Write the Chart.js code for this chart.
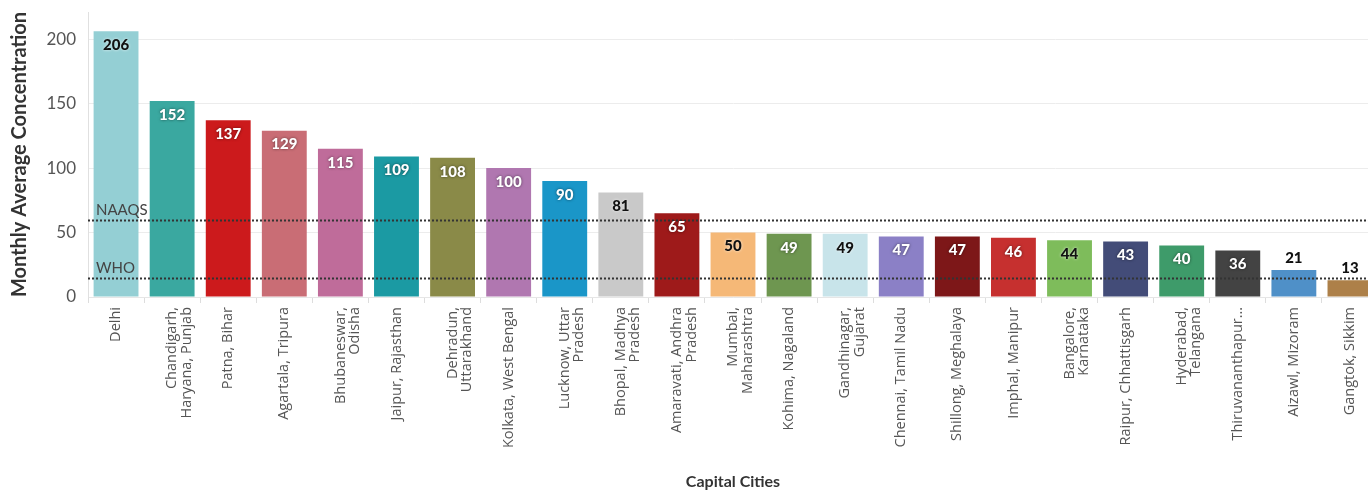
<!DOCTYPE html>
<html>
<head>
<meta charset="utf-8">
<script src="https://cdn.jsdelivr.net/npm/chart.js@4.4.0/dist/chart.umd.js"></script>
<style>
  html, body { margin: 0; padding: 0; background: #fff; overflow: hidden; }
  #wrap { position: relative; width: 1378px; height: 493px; }
</style>
</head>
<body>
<div id="wrap"><canvas id="c"></canvas></div>
<script>
// capital cities, sorted by monthly average concentration
const cities = [
    ['Delhi'], ['Chandigarh,', 'Haryana, Punjab'], ['Patna, Bihar'], ['Agartala, Tripura'],
    ['Bhubaneswar,', 'Odisha'], ['Jaipur, Rajasthan'], ['Dehradun,', 'Uttarakhand'],
    ['Kolkata, West Bengal'], ['Lucknow, Uttar', 'Pradesh'], ['Bhopal, Madhya', 'Pradesh'],
    ['Amaravati, Andhra', 'Pradesh'], ['Mumbai,', 'Maharashtra'], ['Kohima, Nagaland'],
    ['Gandhinagar,', 'Gujarat'], ['Chennai, Tamil Nadu'], ['Shillong, Meghalaya'],
    ['Imphal, Manipur'], ['Bangalore,', 'Karnataka'], ['Raipur, Chhattisgarh'],
    ['Hyderabad,', 'Telangana'], ['Thiruvananthapur…'], ['Aizawl, Mizoram'], ['Gangtok, Sikkim'],
];
const values = [206, 152, 137, 129, 115, 109, 108, 100, 90, 81, 65, 50, 49, 49, 47, 47, 46, 44, 43, 40, 36, 21, 13];
const barColors = ['#94cfd4', '#3aa8a0', '#cc1a1c', '#c96d75', '#bf6c9a', '#1b9aa3', '#8a8a48',
    '#b077b0', '#1a96c8', '#c9c9c9', '#9e1a1a', '#f5b877', '#6e9650', '#c8e4ea', '#8b80c6',
    '#7d1718', '#c6302f', '#7ebc5b', '#434c78', '#3e9b6a', '#434343', '#4f90c8', '#ad8049'];
// label colour: 'w' white inside, 'b' black inside
const labelInk = ['b', 'w', 'w', 'w', 'w', 'w', 'w', 'w', 'w', 'b', 'w', 'b', 'w', 'b', 'w', 'w', 'w', 'b', 'w', 'w', 'w', 'b', 'b'];
const refValues = [60, 15];
const refNames = ['NAAQS', 'WHO'];
const yTicks = [0, 50, 100, 150, 200];

const refLines = {
    id: 'refLines',
    afterDatasetsDraw(chart) {
        const { ctx, chartArea: a, scales: { y } } = chart;
        ctx.save();
        refValues.forEach((v, i) => {
            const py = Math.round(y.getPixelForValue(v)) + 0.5;
            ctx.strokeStyle = '#333';
            ctx.lineWidth = 2;
            ctx.setLineDash([2, 2]);
            ctx.beginPath();
            ctx.moveTo(a.left, py);
            ctx.lineTo(a.right, py);
            ctx.stroke();
            ctx.setLineDash([]);
            ctx.fillStyle = '#444';
            ctx.font = '15px Lato';
            ctx.textAlign = 'left';
            ctx.textBaseline = 'bottom';
            ctx.fillText(refNames[i], a.left + 8, py - 3);
        });
        ctx.restore();
    }
};

const barLabels = {
    id: 'barLabels',
    afterDatasetsDraw(chart) {
        const { ctx } = chart;
        const meta = chart.getDatasetMeta(0);
        ctx.save();
        ctx.font = '900 15px Lato';
        ctx.textAlign = 'center';
        ctx.textBaseline = 'middle';
        meta.data.forEach((bar, i) => {
            const h = bar.base - bar.y;
            const inside = h > 30;
            const ty = inside ? bar.y + 14 : bar.y - 12;
            const white = labelInk[i] === 'w';
            ctx.shadowColor = white ? 'rgba(0,0,0,0.55)' : 'rgba(255,255,255,0.8)';
            ctx.shadowBlur = 3;
            ctx.fillStyle = white ? '#fff' : '#111';
            ctx.fillText(String(values[i]), bar.x, ty);
        });
        ctx.restore();
    }
};

new Chart(document.getElementById('c'), {
    type: 'bar',
    data: {
        labels: cities,
        datasets: [{ data: values, backgroundColor: barColors, barPercentage: 0.8, categoryPercentage: 1 }],
    },
    options: {
        responsive: true, maintainAspectRatio: false, animation: false,
        layout: { padding: { top: 12, left: 0, right: 0, bottom: 0 } },
        plugins: { legend: { display: false }, tooltip: { enabled: false } },
        scales: {
            x: {
                grid: { display: true, drawOnChartArea: false, drawTicks: true, tickLength: 6, color: '#ddd' },
                border: { color: '#e6e6e6' },
                ticks: {
                    autoSkip: false, minRotation: 90, maxRotation: 90, padding: 4,
                    color: '#555', font: { family: 'Open Sans', size: 14.5, lineHeight: 1.0 },
                },
                title: {
                    display: true, text: 'Capital Cities', color: '#333',
                    font: { family: 'Lato', size: 16, weight: 'bold' }, padding: { top: 0, bottom: 2 },
                },
                afterFit: (s) => { s.height = 196; },
            },
            y: {
                min: 0, max: 221,
                afterBuildTicks: (s) => { s.ticks = yTicks.map((v) => ({ value: v })); },
                grid: { color: '#ececec', drawTicks: false },
                border: { color: '#e0e0e0' },
                ticks: { color: '#555', font: { family: 'Lato', size: 17 }, padding: 12 },
                title: {
                    display: true, text: 'Monthly Average Concentration', color: '#333',
                    font: { family: 'Lato', size: 20, weight: 'bold' }, padding: { top: 8, bottom: 4 },
                },
                afterFit: (s) => { s.width = 88; s.paddingTop = 0; s.paddingBottom = 0; },
            },
        },
    },
    plugins: [refLines, barLabels],
});
</script>
</body>
</html>
